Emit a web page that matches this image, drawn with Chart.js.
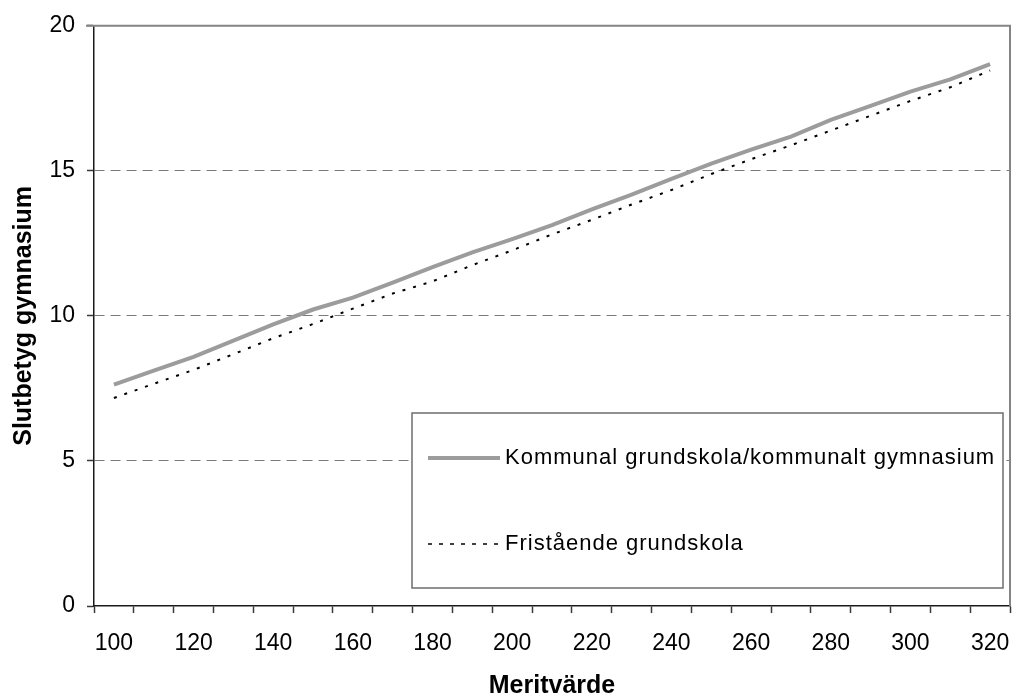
<!DOCTYPE html>
<html>
<head>
<meta charset="utf-8">
<script src="https://cdn.jsdelivr.net/npm/chart.js@4.4.1/dist/chart.umd.min.js"></script>
<style>
  html, body { margin: 0; padding: 0; background: #fff; }
  #wrap { width: 1016px; height: 697px; }
</style>
</head>
<body>
<div id="wrap"><canvas id="c" width="1016" height="697"></canvas></div>
<script>
// Merit value categories (x axis)
const meritvarde = [100, 110, 120, 130, 140, 150, 160, 170, 180, 190, 200, 210,
                    220, 230, 240, 250, 260, 270, 280, 290, 300, 310, 320];

// Final grade, municipal compulsory school / municipal upper secondary
const kommunal = [7.63, 8.11, 8.59, 9.15, 9.71, 10.22, 10.63, 11.15, 11.68, 12.19, 12.65, 13.13,
                  13.67, 14.18, 14.72, 15.25, 15.73, 16.18, 16.76, 17.24, 17.73, 18.15, 18.68];

// Final grade, independent compulsory school
const fristaende = [7.17, 7.66, 8.14, 8.68, 9.23, 9.72, 10.25, 10.77, 11.19, 11.75, 12.26, 12.81,
                    13.31, 13.84, 14.34, 14.89, 15.40, 15.88, 16.39, 16.90, 17.41, 17.88, 18.46];

const yTicks = [0, 5, 10, 15, 20];

const FONT = "'Liberation Sans', Arial, sans-serif";

// Plot frame (top/right edges) and boxed legend inside the plot area
const frameAndLegend = {
  id: 'frameAndLegend',
  afterDraw(chart, args, opts) {
    const ctx = chart.ctx;
    const a = chart.chartArea;
    ctx.save();
    // top and right frame
    ctx.strokeStyle = '#858585';
    ctx.lineWidth = 2;
    ctx.beginPath();
    ctx.moveTo(a.left - 8, a.top);
    ctx.lineTo(a.right, a.top);
    ctx.lineTo(a.right, a.bottom);
    ctx.stroke();

    // legend box
    const bx = opts.x, by = opts.y, bw = opts.w, bh = opts.h;
    ctx.fillStyle = '#fff';
    ctx.fillRect(bx, by, bw, bh);
    ctx.strokeStyle = '#6e6e6e';
    ctx.lineWidth = 1.5;
    ctx.strokeRect(bx, by, bw, bh);

    ctx.font = '22px ' + FONT;
    ctx.fillStyle = '#000';
    ctx.textBaseline = 'middle';
    ctx.textAlign = 'left';
    try { ctx.letterSpacing = '1px'; } catch (e) {}
    chart.data.datasets.forEach((ds, i) => {
      const ly = by + opts.rowY[i];
      ctx.save();
      ctx.strokeStyle = ds.borderColor;
      ctx.lineWidth = ds.legendWidth;
      ctx.setLineDash(ds.legendDash || []);
      ctx.beginPath();
      ctx.moveTo(bx + opts.lineX0, ly);
      ctx.lineTo(bx + opts.lineX1, ly);
      ctx.stroke();
      ctx.restore();
      ctx.fillText(ds.label, bx + opts.textX, ly);
    });
    ctx.restore();
  }
};

new Chart(document.getElementById('c'), {
  type: 'line',
  data: {
    labels: meritvarde.map(String),
    datasets: [
      {
        label: 'Kommunal grundskola/kommunalt gymnasium',
        data: kommunal,
        borderColor: '#9c9c9c',
        borderWidth: 4,
        legendWidth: 4,
        pointRadius: 0,
        tension: 0,
        fill: false
      },
      {
        label: 'Fristående grundskola',
        data: fristaende,
        borderColor: '#000000',
        borderWidth: 2,
        borderDash: [3, 8],
        legendWidth: 1.5,
        legendDash: [4, 7],
        pointRadius: 0,
        tension: 0,
        fill: false
      }
    ]
  },
  options: {
    responsive: false,
    animation: false,
    devicePixelRatio: 1,
    layout: { padding: { top: 24, right: 6, left: 0, bottom: 0 } },
    plugins: {
      legend: { display: false },
      tooltip: { enabled: false },
      frameAndLegend: {
        x: 412, y: 413, w: 591, h: 175,
        lineX0: 16, lineX1: 88, textX: 93,
        rowY: [45, 131]
      }
    },
    scales: {
      x: {
        type: 'category',
        offset: true,
        grid: {
          drawOnChartArea: false,
          offset: true,
          tickLength: 7,
          tickColor: '#3a3a3a',
          tickWidth: 1.5
        },
        border: { display: true, color: '#1a1a1a', width: 1.5 },
        ticks: {
          autoSkip: false,
          maxRotation: 0,
          minRotation: 0,
          padding: 17,
          color: '#000',
          font: { family: FONT, size: 23 },
          callback: function (value, index) {
            return index % 2 === 0 ? this.getLabelForValue(value) : '';
          }
        },
        title: {
          display: true,
          text: 'Meritvärde',
          color: '#000',
          font: { family: FONT, size: 25, weight: 'bold' },
          padding: { top: 4, bottom: -4 }
        },
        afterFit(scale) {
          scale.height = 91;
          scale.paddingLeft = 0;
          scale.paddingRight = 0;
        }
      },
      y: {
        min: 0,
        max: 20,
        afterBuildTicks(scale) { scale.ticks = yTicks.map(v => ({ value: v })); },
        grid: {
          color: (c) => (c.tick && c.tick.value > 0 && c.tick.value < 20) ? '#7a7a7a' : 'rgba(0,0,0,0)',
          lineWidth: 1,
          tickLength: 7,
          tickColor: '#3a3a3a',
          tickBorderDash: [1, 0],
          tickWidth: 1.5
        },
        border: { display: true, color: '#1a1a1a', width: 1.5, dash: [10, 6] },
        ticks: {
          padding: 12,
          color: '#000',
          font: { family: FONT, size: 23 }
        },
        title: {
          display: true,
          text: 'Slutbetyg gymnasium',
          color: '#000',
          font: { family: FONT, size: 25, weight: 'bold' },
          padding: { top: 9, bottom: 0 }
        },
        afterFit(scale) { scale.width = 94; }
      }
    }
  },
  plugins: [frameAndLegend]
});
</script>
</body>
</html>
